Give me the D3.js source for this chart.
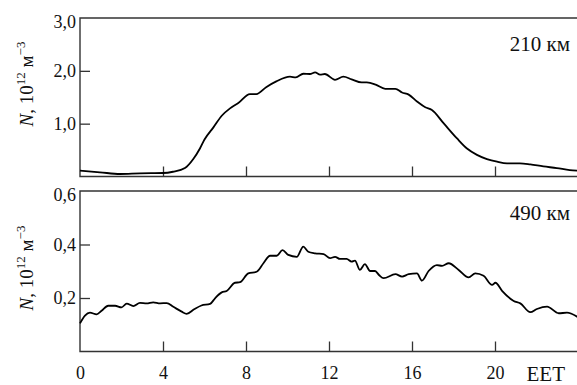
<!DOCTYPE html>
<html>
<head>
<meta charset="utf-8">
<script src="https://cdn.jsdelivr.net/npm/d3@7/dist/d3.min.js"></script>
<style>
  html, body { margin: 0; padding: 0; background: #fff; }
  svg { display: block; }
  svg text { font-family: "Liberation Serif", "Times New Roman", Times, Tinos, "Noto Serif", "DejaVu Serif", FreeSerif, serif; fill: #111; }
</style>
</head>
<body>
<svg id="chart" width="577" height="385"></svg>
<script>
// Electron density N (10^12 m^-3) versus local time (EET), two altitudes
const hours210 = [0, 0.96, 1.93, 2.89, 4.0, 4.48, 5.06, 5.46, 5.78, 6.0, 6.43, 6.83, 7.23, 7.63, 8.19, 8.5, 8.97, 9.46, 10.12, 10.4, 10.76, 11.08, 11.33, 11.57, 11.8, 12.29, 12.69, 13.09, 13.57, 13.82, 14.25, 14.71, 15.2, 15.52, 15.84, 16.24, 16.64, 16.96, 17.52, 18.17, 18.65, 19.13, 19.61, 20.1, 20.58, 21.2, 21.7, 22.33, 22.98, 23.6, 24];
const n210 = [0.11, 0.08, 0.047, 0.06, 0.066, 0.09, 0.16, 0.33, 0.53, 0.7, 0.93, 1.15, 1.29, 1.39, 1.56, 1.56, 1.69, 1.80, 1.89, 1.875, 1.945, 1.94, 1.97, 1.93, 1.94, 1.83, 1.89, 1.84, 1.78, 1.78, 1.74, 1.66, 1.66, 1.59, 1.55, 1.42, 1.31, 1.26, 1.01, 0.72, 0.53, 0.41, 0.33, 0.28, 0.25, 0.25, 0.23, 0.19, 0.16, 0.12, 0.11];

const hours490 = [0, 0.24, 0.48, 0.8, 1.04, 1.36, 1.69, 2.0, 2.25, 2.57, 2.89, 3.21, 3.53, 3.86, 4.18, 4.5, 4.9, 5.14, 5.5, 5.85, 6.27, 6.51, 6.83, 7.07, 7.47, 7.71, 8.11, 8.51, 8.84, 9.16, 9.48, 9.76, 10.04, 10.45, 10.76, 11.0, 11.33, 11.74, 12.05, 12.29, 12.53, 12.85, 13.09, 13.25, 13.49, 13.73, 13.98, 14.22, 14.42, 14.63, 15.2, 15.52, 15.84, 16.24, 16.48, 16.8, 17.2, 17.45, 17.77, 18.25, 18.73, 19.05, 19.45, 19.86, 20.02, 20.34, 20.9, 21.22, 21.7, 22.02, 22.51, 23.07, 23.47, 24];
const n490 = [0.105, 0.134, 0.145, 0.139, 0.152, 0.171, 0.171, 0.165, 0.179, 0.17, 0.182, 0.18, 0.184, 0.18, 0.181, 0.167, 0.149, 0.141, 0.158, 0.172, 0.178, 0.199, 0.221, 0.226, 0.257, 0.259, 0.292, 0.298, 0.33, 0.358, 0.358, 0.379, 0.361, 0.354, 0.392, 0.373, 0.367, 0.364, 0.349, 0.354, 0.346, 0.346, 0.336, 0.34, 0.305, 0.327, 0.301, 0.301, 0.285, 0.274, 0.289, 0.28, 0.289, 0.292, 0.265, 0.301, 0.323, 0.32, 0.33, 0.305, 0.277, 0.292, 0.283, 0.249, 0.257, 0.227, 0.189, 0.18, 0.147, 0.159, 0.168, 0.143, 0.145, 0.128];

const hourTicks = [0, 4, 8, 12, 16, 20];
const yTicks210 = [1.0, 2.0, 3.0];
const yTicks490 = [0.2, 0.4, 0.6];
const panels = [
  { hours: hours210, values: n210, max: 3.0, ticks: yTicks210, label: "210 км", top: 18, bottom: 176.5, labelY: 51, titleY: 84 },
  { hours: hours490, values: n490, max: 0.6, ticks: yTicks490, label: "490 км", top: 191, bottom: 351.5, labelY: 220, titleY: 268 }
];

const serif = '"Liberation Serif", "Times New Roman", Times, Tinos, "Noto Serif", "DejaVu Serif", FreeSerif, serif';
const svg = d3.select("#chart");
const left = 80, right = 578;
const x = d3.scaleLinear().domain([0, 24]).range([left, right]);
const fmt = v => d3.format(".1f")(v).replace(".", ",");
const axisColor = "#333";

panels.forEach((p, i) => {
  const y = d3.scaleLinear().domain([0, p.max]).range([p.bottom, p.top]);
  const g = svg.append("g").attr("font-family", serif);

  // frame: top, left, bottom edges
  g.append("path")
    .attr("d", `M${right},${p.top}H${left}V${p.bottom}H${right}`)
    .attr("fill", "none").attr("stroke", axisColor).attr("stroke-width", 1.4);

  // inward hour ticks along the bottom edge
  const xa = d3.axisBottom(x).tickValues(i === 1 ? hourTicks : hourTicks.slice(1))
    .tickSize(-10).tickPadding(15).tickFormat(i === 1 ? d3.format("d") : "");
  const xg = g.append("g").attr("transform", `translate(0,${p.bottom})`).call(xa)
    .attr("font-family", serif).attr("font-size", 18);
  xg.select(".domain").remove();
  xg.selectAll(".tick line").attr("stroke", axisColor).attr("stroke-width", 1.3)
    .filter(d => d === 0).remove();
  xg.selectAll(".tick text").attr("fill", "#111");

  // inward density ticks along the left edge
  const ya = d3.axisLeft(y).tickValues(p.ticks).tickSize(-10).tickPadding(4).tickFormat(fmt);
  const yg = g.append("g").attr("transform", `translate(${left},0)`).call(ya)
    .attr("font-family", serif).attr("font-size", 18);
  yg.select(".domain").remove();
  yg.selectAll(".tick line").attr("stroke", axisColor).attr("stroke-width", 1.3)
    .filter(d => d === p.max).remove();
  yg.selectAll(".tick text").attr("fill", "#111")
    .attr("dy", d => d === p.max ? "0.55em" : "0.32em");

  // density curve
  const line = d3.line().x((d, k) => x(p.hours[k])).y(d => y(d)).curve(d3.curveMonotoneX);
  g.append("path").datum(p.values).attr("d", line)
    .attr("fill", "none").attr("stroke", "#000").attr("stroke-width", 1.8)
    .attr("stroke-linejoin", "round");

  // altitude label
  g.append("text").attr("x", 570).attr("y", p.labelY).attr("text-anchor", "end")
    .attr("font-size", 21).text(p.label);

  // axis title
  const t = g.append("text").attr("transform", `translate(33,${p.titleY}) rotate(-90)`)
    .attr("text-anchor", "middle").attr("font-size", 19);
  t.append("tspan").attr("font-style", "italic").text("N");
  t.append("tspan").text(", 10");
  t.append("tspan").attr("font-size", 13).attr("dy", -8).text("12");
  t.append("tspan").attr("dy", 8).text(" м");
  t.append("tspan").attr("font-size", 13).attr("dy", -8).text("−3");
});

svg.append("text").attr("x", 565).attr("y", 381).attr("text-anchor", "end")
  .attr("font-family", serif).attr("font-size", 21).text("EET");
</script>
</body>
</html>
